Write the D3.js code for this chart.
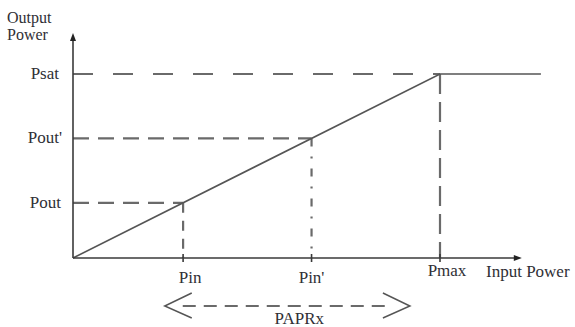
<!DOCTYPE html>
<html><head><meta charset="utf-8">
<script src="https://cdn.jsdelivr.net/npm/d3@7"></script>
<style>
html,body{margin:0;padding:0;background:#fff;}
text{font-family:"Liberation Serif","DejaVu Serif",serif;fill:#2f2f35;}
</style></head>
<body>
<svg id="chart" width="575" height="327"></svg>
<script>
// Data (normalized units)
const inputLabels = ["Pin", "Pin'", "Pmax"];
const inputValues = [0.30, 0.65, 1.00];
const outputLabels = ["Pout", "Pout'", "Psat"];
const outputValues = [0.30, 0.65, 1.00];
const axisMax = 1.223;          // extent of both axes
const saturationEnd = 1.275;    // where the flat Psat line stops
const paprSpan = [0.25, 0.918]; // PAPRx double-arrow extent on input axis
const xTitle = "Input Power";
const yTitle = ["Output", "Power"];
const paprLabel = "PAPRx";

const svg = d3.select("#chart");
const x = d3.scaleLinear().domain([0, 1]).range([73, 440]);
const y = d3.scaleLinear().domain([0, 1]).range([258, 74]);

const axisCol = "#3a3a3a", lineCol = "#555", dashCol = "#6a6a6a";
const fs = 17;

// Dashed horizontal guides
const hDash = ["16,9", "16,9", "20,20"];
outputValues.forEach((v, i) => {
  svg.append("line")
    .attr("x1", x(0)).attr("x2", x(inputValues[i]))
    .attr("y1", y(v)).attr("y2", y(v))
    .attr("stroke", dashCol).attr("stroke-width", 2.2)
    .attr("stroke-dasharray", hDash[i]);
});
// Dashed vertical guides
const vDash = ["10,8", "8,10,2,10", "20,8"];
inputValues.forEach((v, i) => {
  svg.append("line")
    .attr("x1", x(v)).attr("x2", x(v))
    .attr("y1", y(outputValues[i])).attr("y2", y(0))
    .attr("stroke", dashCol).attr("stroke-width", 2.2)
    .attr("stroke-dasharray", vDash[i]);
});

// Transfer curve
const curve = [[0, 0], [inputValues[2], outputValues[2]], [saturationEnd, outputValues[2]]];
svg.append("path")
  .attr("d", d3.line().x(d => x(d[0])).y(d => y(d[1]))(curve))
  .attr("fill", "none").attr("stroke", lineCol).attr("stroke-width", 1.6);

// Axes
svg.append("line").attr("x1", x(0)).attr("x2", x(axisMax) - 4)
  .attr("y1", y(0)).attr("y2", y(0)).attr("stroke", axisCol).attr("stroke-width", 1.6);
svg.append("line").attr("x1", x(0)).attr("x2", x(0))
  .attr("y1", y(0)).attr("y2", y(axisMax) + 4).attr("stroke", axisCol).attr("stroke-width", 1.6);
// arrowheads
const ax = x(axisMax), ay = y(0);
svg.append("path").attr("d", `M${ax},${ay} L${ax - 8},${ay - 3} L${ax - 8},${ay + 3} Z`).attr("fill", "#222");
const bx = x(0), by = y(axisMax);
svg.append("path").attr("d", `M${bx},${by} L${bx - 3},${by + 8} L${bx + 3},${by + 8} Z`).attr("fill", "#222");

// x ticks
inputValues.forEach(v => {
  svg.append("line").attr("x1", x(v)).attr("x2", x(v))
    .attr("y1", y(0) - 4).attr("y2", y(0) + 4)
    .attr("stroke", axisCol).attr("stroke-width", 1.6);
});

// Tick labels
const xLabelY = [283, 283, 276];
const xLabelDx = [7, 0, 7];
inputLabels.forEach((t, i) => {
  svg.append("text").attr("x", x(inputValues[i]) + xLabelDx[i]).attr("y", xLabelY[i])
    .attr("text-anchor", "middle").attr("font-size", fs).text(t);
});
const yLabelDx = [61, 62, 59];
outputLabels.forEach((t, i) => {
  svg.append("text").attr("x", yLabelDx[i]).attr("y", y(outputValues[i]) + 5)
    .attr("text-anchor", "end").attr("font-size", fs).text(t);
});

// Axis titles
svg.append("text").attr("x", 486).attr("y", 277).attr("font-size", fs).text(xTitle);
yTitle.forEach((t, i) => {
  svg.append("text").attr("x", 7).attr("y", 23 + i * 17).attr("font-size", 16).text(t);
});

// PAPRx double arrow
const py = 306, p0 = x(paprSpan[0]), p1 = x(paprSpan[1]);
svg.append("line").attr("x1", p0 + 18).attr("x2", p1 - 18).attr("y1", py).attr("y2", py)
  .attr("stroke", dashCol).attr("stroke-width", 2).attr("stroke-dasharray", "13,8");
svg.append("path").attr("d", `M${p0 + 27},${py - 13} L${p0},${py} L${p0 + 27},${py + 12}`)
  .attr("fill", "none").attr("stroke", lineCol).attr("stroke-width", 1.5);
svg.append("path").attr("d", `M${p1 - 27},${py - 13} L${p1},${py} L${p1 - 27},${py + 12}`)
  .attr("fill", "none").attr("stroke", lineCol).attr("stroke-width", 1.5);
svg.append("text").attr("x", (p0 + p1) / 2 + 12).attr("y", 324)
  .attr("text-anchor", "middle").attr("font-size", fs).text(paprLabel);
</script>
</body></html>
